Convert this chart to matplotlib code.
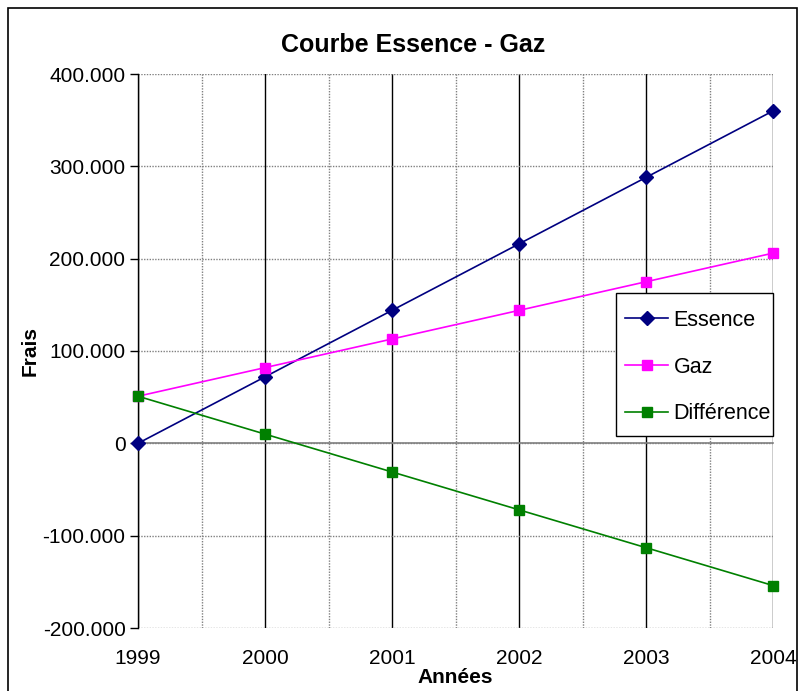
import matplotlib
matplotlib.use("Agg")
import matplotlib.pyplot as plt
from matplotlib.ticker import FuncFormatter, MultipleLocator
from matplotlib.patches import Rectangle

plt.rcParams['font.family'] = ['Liberation Sans', 'DejaVu Sans']

years = [1999, 2000, 2001, 2002, 2003, 2004]
essence = [0, 72, 144, 216, 288, 360]
gaz = [51, 82, 113, 144, 175, 206]
difference = [51, 10, -31, -72, -113, -154]
series_names = ["Essence", "Gaz", "Différence"]

fig = plt.figure(figsize=(8.11, 6.91), dpi=100)
W, H = 811, 691
L, R, T, B = 138, 773, 74, 628
ax = fig.add_axes([L / W, 1 - B / H, (R - L) / W, (B - T) / H])

def ax_xy(px, py):
    return ((px - L) / (R - L), 1 - (py - T) / (B - T))

# outer chart border
fig.patches.append(Rectangle((8 / W, -0.01), (797 - 8) / W, 1 - 8 / H + 0.01,
                             transform=fig.transFigure, fill=False,
                             edgecolor='black', linewidth=1.2, zorder=0))

ax.set_xlim(1999, 2004)
ax.set_ylim(-200, 400)

ax.xaxis.set_major_locator(MultipleLocator(1))
ax.xaxis.set_minor_locator(MultipleLocator(0.5))
ax.yaxis.set_major_locator(MultipleLocator(100))

ax.grid(True, which='major', axis='x', color='black', linewidth=1.0, linestyle='-')
ax.grid(True, which='minor', axis='x', color='#808080', linewidth=1.0, linestyle=(0, (1, 1)))
ax.grid(True, which='major', axis='y', color='#808080', linewidth=1.0, linestyle=(0, (1, 1)))
ax.set_axisbelow(True)
ax.axhline(0, color='#808080', linewidth=1.2, zorder=1)

for s in ['top', 'right', 'bottom']:
    ax.spines[s].set_visible(False)
ax.spines['left'].set_color('black')
ax.spines['left'].set_linewidth(1.0)

def fmt(v, pos):
    if v == 0:
        return "0"
    return f"{int(round(v))}.000"

ax.yaxis.set_major_formatter(FuncFormatter(fmt))
ax.tick_params(axis='y', which='major', length=6, width=1, labelsize=15, pad=3)
ax.tick_params(axis='x', which='both', length=0, labelsize=15, pad=15)
ax.set_xticks(years)
ax.set_xticklabels([str(y) for y in years])

ax.plot(years, essence, color='#000080', marker='D', markersize=7, linewidth=1.2,
        label=series_names[0], zorder=3)
ax.plot(years, gaz, color='#FF00FF', marker='s', markersize=6.5, linewidth=1.2,
        label=series_names[1], zorder=3)
ax.plot(years, difference, color='#008000', marker='s', markersize=6.5, linewidth=1.2,
        label=series_names[2], zorder=3)
for ln in ax.lines:
    ln.set_clip_on(False)

fig.text(413 / W, 1 - 45 / H, "Courbe Essence - Gaz", fontsize=18, fontweight='bold',
         ha='center', va='center')
ax.set_xlabel("Années", fontsize=15, fontweight='bold', labelpad=0)
ax.set_ylabel("Frais", fontsize=15, fontweight='bold', labelpad=2)

# legend box (drawn separately), entries placed inside
x0, y0 = ax_xy(616, 436)
x1, y1 = ax_xy(773, 293)
ax.add_patch(Rectangle((x0, y0), x1 - x0, y1 - y0, transform=ax.transAxes,
                       facecolor='white', edgecolor='black', linewidth=1.0,
                       zorder=4, clip_on=False))
leg = ax.legend(loc='upper left', bbox_to_anchor=ax_xy(625, 310),
                fontsize=15.5, frameon=False,
                handlelength=2.0, handletextpad=0.25, labelspacing=1.19,
                borderpad=0, borderaxespad=0)
leg.set_zorder(5)

fig.savefig("out.png", dpi=100)
